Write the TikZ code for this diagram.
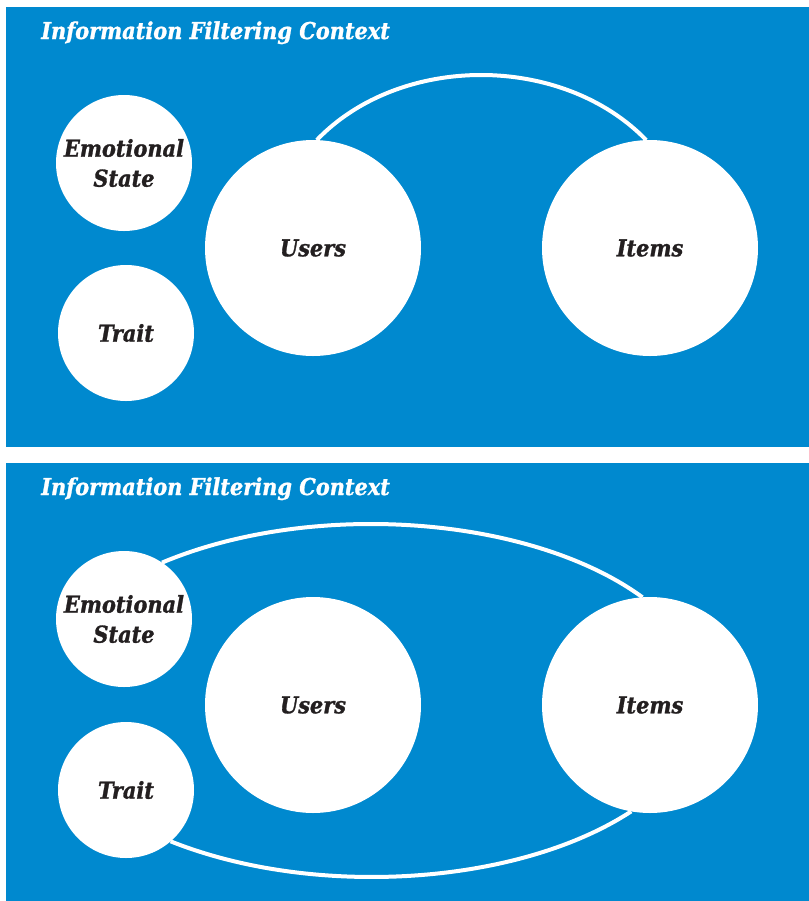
\documentclass[tikz,border=0pt]{standalone}
\usepackage{fontspec}
\newfontfamily\slabfont{DejaVu Serif Condensed}[FakeBold=1.2]
\definecolor{panelblue}{RGB}{0,137,207}
\definecolor{inkdark}{RGB}{35,31,32}

\begin{document}
\begin{tikzpicture}[x=0.75pt,y=-0.75pt,
  panel/.style={fill=panelblue,draw=none},
  heading/.style={anchor=base west,inner sep=0pt,text=white,
    font=\slabfont\bfseries\itshape\fontsize{17.4pt}{20pt}\selectfont},
  bubble/.style={circle,fill=white,draw=none,inner sep=0pt,outer sep=0pt,
    text=inkdark,align=center,
    font=\slabfont\bfseries\itshape\fontsize{17.4pt}{22.5pt}\selectfont},
  smallbubble/.style={bubble,minimum size=102pt},
  bigbubble/.style={bubble,minimum size=162pt},
  link/.style={draw=white,line width=3pt}]

% page background and frame
\fill[white] (0,0) rectangle (809,901);
\useasboundingbox (0,0) rectangle (809,901);

% ---------- upper panel ----------
\fill[panel] (6,7) rectangle (809,447);
\node[heading] (titleA) at (41,39) {Information Filtering Context};

\node[smallbubble] (emoA)   at (124,163) {Emotional\\State};
\node[smallbubble] (traitA) at (126,333) {\raisebox{-1.5pt}{Trait}};
\node[bigbubble]   (usersA) at (313,248) {\raisebox{-1.5pt}{Users}};
\node[bigbubble]   (itemsA) at (650,248) {\raisebox{-1.5pt}{Items}};

\draw[link] (usersA.88) .. controls (400,53.3) and (562,53.3) .. (itemsA.92);

% ---------- lower panel ----------
\fill[panel] (6,463) rectangle (809,901);
\node[heading] (titleB) at (41,495) {Information Filtering Context};

\node[smallbubble] (emoB)   at (124,619) {Emotional\\State};
\node[smallbubble] (traitB) at (126,790) {\raisebox{-1.5pt}{Trait}};
\node[bigbubble]   (usersB) at (313,705) {\raisebox{-1.5pt}{Users}};
\node[bigbubble]   (itemsB) at (650,705) {\raisebox{-1.5pt}{Items}};

\draw[link] (emoB.56) .. controls (311.6,499.8) and (529.9,515.2) .. (itemsB.94);
\draw[link] (traitB.-49) .. controls (314.2,898.6) and (517.8,885.6) .. (itemsB.260);

\end{tikzpicture}
\end{document}
